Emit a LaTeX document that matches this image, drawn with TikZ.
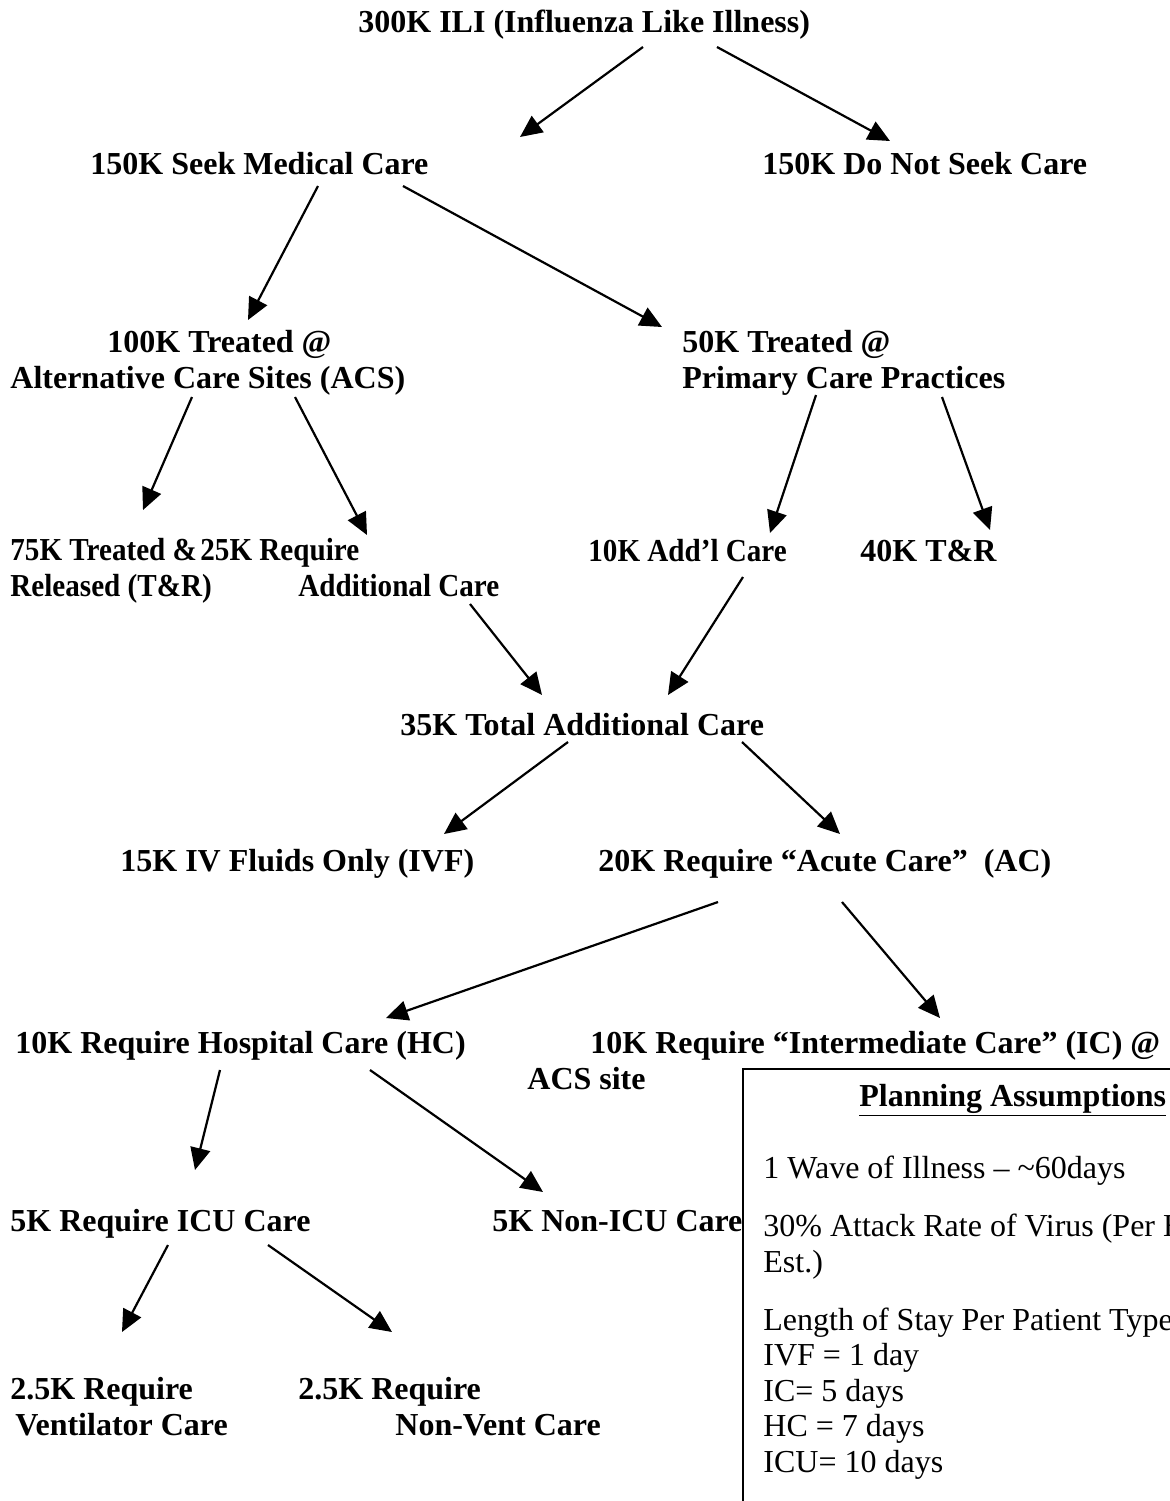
\documentclass[tikz,border=0pt]{standalone}
\usepackage{fontspec}
\setmainfont{Liberation Serif}
\newfontfamily\condbf[FakeStretch=0.91]{Liberation Serif}
\usetikzlibrary{calc,arrows.meta}

\begin{document}
\begin{tikzpicture}[x=0.5pt, y=-0.5pt,
  nodes = {inner sep=0pt, anchor=base west, align=left,
    font=\bfseries\fontsize{16}{18}\selectfont},
  narrow/.style = {font=\condbf\bfseries\fontsize{16}{18}\selectfont},
  note/.style = {font=\fontsize{16}{17.75}\selectfont},
  arr/.style = {line width=1.1pt, -{Triangle[length=11pt, width=10pt]}}
  ]
  \useasboundingbox (0,0) rectangle (1170,1501);

  % multi-line nodes sit on the baseline of their last line
  \node (ili)     at (358,32)   {300K ILI (Influenza Like Illness)};
  \node (seek)    at (90,174)   {150K Seek Medical Care};
  \node (noseek)  at (762,174)  {150K Do Not Seek Care};
  \node (acs)     at (10,388)   {\hspace*{48.5pt}100K Treated @\\Alternative Care Sites (ACS)};
  \node (pcp)     at (682,388)  {50K Treated @\\Primary Care Practices};
  \node (tr75)    [narrow] at (10,596)  {75K Treated \&\\Released (T\&R)};
  \node (req25)   [narrow] at (200,596) {25K Require\\\hspace*{49pt}Additional Care};
  \node (addl)    [narrow] at (588,561) {10K Add’l Care};
  \node (tr40)    at (860,561)  {40K T\&R};
  \node (total)   at (400,735)  {35K Total Additional Care};
  \node (ivf)     at (120,871)  {15K IV Fluids Only (IVF)};
  \node (acute)   at (598,871)  {20K Require “Acute Care”\ \ (AC)};
  \node (hosp)    at (15,1053)  {10K Require Hospital Care (HC)};
  \node (inter)   at (527,1089) {\hspace*{31.5pt}10K Require “Intermediate Care” (IC) @\\ACS site};
  \node (icu)     at (10,1231)  {5K Require ICU Care};
  \node (nonicu)  at (492,1231) {5K Non-ICU Care};
  \node (vent)    at (10,1435)  {2.5K Require\\\hspace*{2.5pt}Ventilator Care};
  \node (nonvent) at (298,1435) {2.5K Require\\\hspace*{48.5pt}Non-Vent Care};

  % planning box, runs off the page
  \draw [line width=1pt] (743,1510) |- (1180,1069);
  \node (plan)  at (859,1106) {\underline{Planning Assumptions}};
  \node (facts) [note] at (763,1472) {1 Wave of Illness – \textasciitilde60days\\[11.25pt]
    30\% Attack Rate of Virus (Per HHS\\Est.)\\[11.25pt]
    Length of Stay Per Patient Type\\IVF = 1 day\\IC= 5 days\\HC = 7 days\\ICU= 10 days};

  \draw [arr] ($(ili.base west)+(285,15)$) -- ($(seek.base west)+(430,-37)$);
  \draw [arr] ($(ili.base west)+(359,15)$) -- ($(noseek.base west)+(128,-33)$);
  \draw [arr] ($(seek.base west)+(228,12)$) -- ($(acs.base west)+(238,-68)$);
  \draw [arr] ($(seek.base west)+(313,12)$) -- ($(pcp.base west)+(-20,-61)$);
  \draw [arr] ($(acs.base west)+(182,9)$) -- ($(tr75.base west)+(133,-86)$);
  \draw [arr] ($(acs.base west)+(285,9)$) -- ($(req25.base west)+(167,-61)$);
  \draw [arr] ($(pcp.base west)+(134,7)$) -- ($(addl.base west)+(182,-28)$);
  \draw [arr] ($(pcp.base west)+(260,9)$) -- ($(tr40.base west)+(130,-31)$);
  \draw [arr] ($(req25.base west)+(270,8)$) -- ($(total.base west)+(142,-40)$);
  \draw [arr] ($(addl.base west)+(155,16)$) -- ($(total.base west)+(268,-40)$);
  \draw [arr] ($(total.base west)+(168,7)$) -- ($(ivf.base west)+(324,-37)$);
  \draw [arr] ($(total.base west)+(342,7)$) -- ($(acute.base west)+(242,-37)$);
  \draw [arr] ($(acute.base west)+(120,31)$) -- ($(hosp.base west)+(371,-35)$);
  \draw [arr] ($(acute.base west)+(244,31)$) -- ($(inter.base west)+(413,-71)$);
  \draw [arr] ($(hosp.base west)+(205,17)$) -- ($(icu.base west)+(185,-61)$);
  \draw [arr] ($(hosp.base west)+(355,17)$) -- ($(nonicu.base west)+(51,-39)$);
  \draw [arr] ($(icu.base west)+(158,14)$) -- ($(vent.base west)+(112,-103)$);
  \draw [arr] ($(icu.base west)+(258,14)$) -- ($(nonvent.base west)+(94,-103)$);
\end{tikzpicture}
\end{document}
